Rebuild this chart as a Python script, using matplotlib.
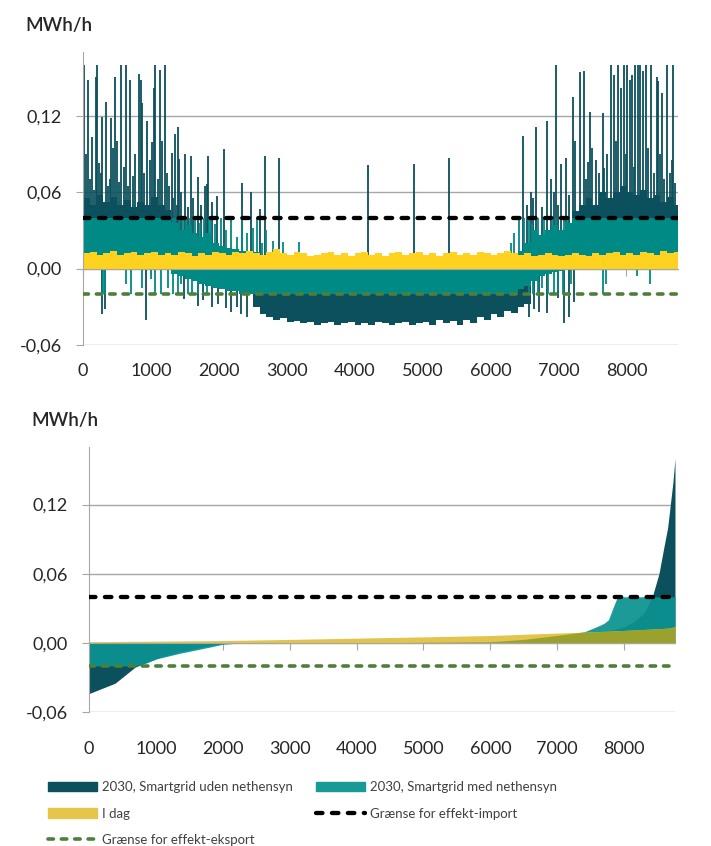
import numpy as np
import matplotlib
matplotlib.use("Agg")
import matplotlib.pyplot as plt
from matplotlib.patches import Patch
from matplotlib.lines import Line2D

plt.rcParams['font.family'] = ['Lato', 'DejaVu Sans']

# ---------------- data ----------------
HOURS = 8760
BIN = 100  # envelope bins of 100 hours

# top panel: dense band envelopes per 100 h bin
yellow_top = [
    0.012, 0.013, 0.011, 0.012, 0.014, 0.011, 0.012, 0.013, 0.011, 0.012,
    0.013, 0.011, 0.012, 0.011, 0.013, 0.012, 0.010, 0.012, 0.011, 0.013,
    0.012, 0.011, 0.013, 0.012, 0.014, 0.012, 0.011, 0.013, 0.015, 0.012,
    0.011, 0.013, 0.012, 0.010, 0.011, 0.012, 0.013, 0.011, 0.012, 0.010,
    0.012, 0.013, 0.011, 0.012, 0.010, 0.012, 0.013, 0.011, 0.012, 0.013,
    0.011, 0.012, 0.010, 0.012, 0.013, 0.011, 0.012, 0.011, 0.013, 0.012,
    0.011, 0.012, 0.014, 0.012, 0.011, 0.012, 0.010, 0.011, 0.012, 0.011,
    0.010, 0.011, 0.012, 0.011, 0.010, 0.012, 0.011, 0.012, 0.013, 0.011,
    0.012, 0.011, 0.013, 0.012, 0.011, 0.014, 0.012, 0.013]

teal_top = ([0.04] * 13
            + [0.036, 0.03, 0.034, 0.028, 0.025, 0.028, 0.02]
            + [0.018, 0.016, 0.015, 0.014, 0.012, 0.013]
            + [0.0] * 38
            + [0.014, 0.02, 0.03, 0.026, 0.03, 0.034, 0.03, 0.036, 0.04]
            + [0.04] * 15)

teal_bot = ([0.0] * 13
            + [-0.004, -0.006, -0.008, -0.01, -0.012, -0.014, -0.015]
            + [-0.016, -0.018, -0.018, -0.02, -0.02]
            + [-0.02] * 39
            + [-0.016, -0.014, -0.01]
            + [-0.006, -0.004, -0.003, -0.002, -0.001]
            + [0.0] * 16)

dark_top = ([0.055, 0.05, 0.058, 0.052, 0.056, 0.05, 0.054, 0.048, 0.052, 0.05, 0.056, 0.05, 0.046]
            + [0.0] * 59
            + [0.045, 0.05, 0.055, 0.05, 0.06, 0.055, 0.06, 0.065, 0.06, 0.058, 0.062, 0.055, 0.058,
               0.052, 0.056, 0.05])

dark_bot = ([0.0] * 25
            + [-0.03, -0.036, -0.038, -0.04, -0.039, -0.042, -0.041, -0.043, -0.042, -0.044,
               -0.043, -0.042, -0.044, -0.043, -0.042, -0.044, -0.043, -0.044, -0.042, -0.043,
               -0.044, -0.043, -0.042, -0.044, -0.043, -0.042, -0.044, -0.04, -0.043, -0.041,
               -0.044, -0.04, -0.043, -0.038, -0.04, -0.036, -0.038, -0.033, -0.035, -0.03, -0.028]
            + [0.0] * 22)

# top panel: individual spikes (hour, MWh/h)
dark_spike_h = [15, 74, 127, 186, 201, 236, 286, 336, 363, 412, 470, 530, 554, 627, 698, 740, 821, 848,
                863, 936, 1010, 1039, 1064, 1132, 1206, 1270, 1309, 1348, 1397, 1417, 1500, 1583, 1693,
                1799, 1819, 1843, 1975, 2076, 2348, 2480, 2603, 2686, 2882, 4196, 4868, 5392, 6475,
                6598, 6672, 6835, 6887, 6961, 7044, 7113, 7208, 7321, 7375, 7441, 7466, 7554, 7662,
                7676, 7777, 7821, 7880, 7926, 7961, 8012, 8050, 8084, 8127, 8170, 8205, 8245, 8290,
                8362, 8446, 8470, 8525, 8598, 8666, 8688, 8721,
                50, 100, 160, 260, 400, 440, 500, 600, 660, 760, 900, 980, 1100, 1160, 1240,
                7250, 7400, 7500, 7600, 7720, 7850, 7990, 8110, 8320, 8400, 8500, 8560, 8640,
                1330, 1380, 1450, 1540, 1620, 1740, 1900, 6540, 6620, 6760, 6930, 7000, 7150]
dark_spike_v = [0.16, 0.148, 0.103, 0.15, 0.16, 0.083, 0.119, 0.131, 0.065, 0.118, 0.15, 0.068, 0.16,
                0.16, 0.148, 0.073, 0.153, 0.148, 0.13, 0.116, 0.099, 0.142, 0.16, 0.156, 0.16, 0.065,
                0.091, 0.106, 0.111, 0.086, 0.09, 0.088, 0.072, 0.065, 0.066, 0.088, 0.057, 0.094,
                0.067, 0.06, 0.047, 0.088, 0.087, 0.081, 0.082, 0.087, 0.104, 0.06, 0.111, 0.116,
                0.07, 0.16, 0.082, 0.087, 0.135, 0.154, 0.155, 0.084, 0.123, 0.085, 0.122, 0.079,
                0.16, 0.152, 0.16, 0.142, 0.16, 0.16, 0.148, 0.152, 0.16, 0.16, 0.16, 0.155, 0.16,
                0.16, 0.15, 0.147, 0.138, 0.16, 0.085, 0.16, 0.067,
                0.09, 0.07, 0.062, 0.075, 0.07, 0.095, 0.1, 0.08, 0.065, 0.09, 0.075, 0.085, 0.07, 0.1, 0.075,
                0.1, 0.07, 0.095, 0.075, 0.09, 0.1, 0.09, 0.08, 0.095, 0.075, 0.09, 0.07, 0.075,
                0.055, 0.05, 0.06, 0.048, 0.055, 0.05, 0.052, 0.05, 0.055, 0.048, 0.06, 0.05, 0.058]

dark_neg_h = [275, 330, 921, 1480, 1686, 1760, 1900, 1990, 2100, 2180, 2260, 2330, 2420,
              6560, 6640, 6720, 6830, 6990, 7088, 7150, 7230]
dark_neg_v = [-0.036, -0.032, -0.04, -0.024, -0.029, -0.025, -0.03, -0.028, -0.031, -0.034, -0.03,
              -0.036, -0.038, -0.038, -0.032, -0.034, -0.035, -0.023, -0.043, -0.038, -0.026]

teal_pos_h = [1320, 1360, 1410, 1470, 1520, 1570, 1650, 1720, 1780, 1850,
              1880, 1950, 2030, 2110, 2180, 2260, 2340, 2420, 2500, 2560, 2640, 2700, 2790, 2950,
              3176, 6300, 6350, 6420, 6500, 6560, 6610, 6700, 6780, 6900, 6960, 7080, 7120]
teal_pos_v = [0.04, 0.04, 0.04, 0.038, 0.04, 0.04, 0.04, 0.036, 0.04, 0.04,
              0.04, 0.035, 0.04, 0.03, 0.038, 0.025, 0.04, 0.028, 0.032, 0.04, 0.02, 0.03, 0.022,
              0.021, 0.021, 0.02, 0.028, 0.04, 0.04, 0.04, 0.035, 0.04, 0.04, 0.038, 0.04, 0.04, 0.04]

teal_neg_h = [300, 320, 640, 700, 870, 1000, 1060, 1150, 1250, 1330, 1400, 1450, 1540, 1600, 1700,
              1820, 6560, 6620, 6700, 6760, 6850, 6930, 7000, 7060, 7180, 7650, 7700, 8150, 8350]
teal_neg_v = [-0.02, -0.02, -0.012, -0.02, -0.015, -0.008, -0.02, -0.02, -0.015, -0.02, -0.02, -0.012,
              -0.02, -0.02, -0.02, -0.02, -0.02, -0.02, -0.02, -0.015, -0.02, -0.02, -0.018, -0.02,
              -0.012, -0.02, -0.012, -0.006, -0.012]

# bottom panel: duration curves
dark_dur_h = [0, 390, 690, 1060, 1360, 1760, 2000, 2200, 4000, 6000, 6500, 7000, 7500, 7840, 8000,
              8140, 8300, 8420, 8520, 8600, 8650, 8690, 8730, 8760]
dark_dur_v = [-0.044, -0.035, -0.021, -0.0125, -0.0076, -0.003, -0.0005, 0.0, 0.0, 0.0005, 0.002,
              0.005, 0.0085, 0.0113, 0.014, 0.018, 0.026, 0.04, 0.06, 0.085, 0.1, 0.12, 0.14, 0.16]

teal_dur_h = [0, 700, 850, 1000, 1360, 1760, 2000, 2300, 4000, 6000, 6500, 7000, 7400, 7600, 7700,
              7766, 7830, 7900, 8760]
teal_dur_v = [-0.02, -0.02, -0.0175, -0.014, -0.009, -0.0042, -0.0012, 0.0, 0.0, 0.001, 0.003,
              0.0065, 0.0095, 0.0143, 0.017, 0.02, 0.03, 0.04, 0.04]

yel_dur_h = [0, 1000, 2000, 3000, 4000, 5000, 6000, 7000, 7500, 8000, 8500, 8700, 8760]
yel_dur_v = [0.001, 0.0015, 0.002, 0.003, 0.0041, 0.0052, 0.0064, 0.0085, 0.0095, 0.0108, 0.0122,
             0.013, 0.0145]

IMPORT_LIMIT = 0.04
EXPORT_LIMIT = -0.02

x_ticks = [0, 1000, 2000, 3000, 4000, 5000, 6000, 7000, 8000]
y_ticks = [-0.06, 0.0, 0.06, 0.12]
y_labels = ['-0,06', '0,00', '0,06', '0,12']

labels = ['2030, Smartgrid uden nethensyn', 'I dag', 'Grænse for effekt-eksport',
          '2030, Smartgrid med nethensyn', 'Grænse for effekt-import']

# ---------------- colours ----------------
DARK = '#0B505C'
TEAL = '#008A86'
YELLOW = '#FFD21F'
GRID = '#A6A6A6'
GREEN = '#4E7F3A'
TXT = '#262626'

W, H = 711, 846
fig = plt.figure(figsize=(W / 100, H / 100), dpi=100)
ax1 = fig.add_axes([83 / W, 1 - 345 / H, (678 - 83) / W, (345 - 52) / H])
ax2 = fig.add_axes([89 / W, 1 - 712 / H, (675 - 89) / W, (712 - 447) / H])


def style(ax, xpad):
    ax.set_xlim(0, HOURS)
    ax.set_ylim(-0.06, 0.17)
    ax.set_yticks(y_ticks)
    ax.set_yticklabels(y_labels)
    for s in ['top', 'right']:
        ax.spines[s].set_visible(False)
    ax.spines['left'].set_color(GRID)
    ax.spines['bottom'].set_position(('data', 0))
    ax.spines['bottom'].set_color(GRID)
    ax.spines['bottom'].set_zorder(2.6)
    ax.grid(axis='y', color=GRID, lw=1.0)
    ax.set_axisbelow(True)
    ax.tick_params(axis='y', length=5, color=GRID, labelsize=13, pad=10, labelcolor=TXT)
    ax.set_xticks(x_ticks)
    ax.tick_params(axis='x', length=5, color=GRID, labelbottom=False)
    sec = ax.secondary_xaxis(0)
    sec.set_xticks(x_ticks)
    sec.set_xticklabels([str(t) for t in x_ticks])
    sec.tick_params(length=0, pad=xpad, labelsize=13, labelcolor=TXT)
    sec.spines['bottom'].set_visible(False)


# ---------------- top: hourly profile ----------------
bin_start = np.arange(0, HOURS, BIN)
x_step = np.append(bin_start, HOURS)


def step_fill(ax, vals, color, z):
    y = np.append(vals, vals[-1])
    ax.fill_between(x_step, 0, y, step='post', color=color, lw=0, zorder=z)


step_fill(ax1, dark_top, DARK, 1.0)
step_fill(ax1, dark_bot, DARK, 1.0)
ax1.vlines(dark_spike_h, 0, dark_spike_v, color=DARK, lw=1.3, zorder=1.1)
ax1.vlines(dark_neg_h, 0, dark_neg_v, color=DARK, lw=1.3, zorder=1.1)
step_fill(ax1, teal_top, TEAL, 1.2)
step_fill(ax1, teal_bot, TEAL, 1.2)
ax1.vlines(teal_pos_h, 0, teal_pos_v, color=TEAL, lw=1.3, zorder=1.3)
ax1.vlines(teal_neg_h, 0, teal_neg_v, color=TEAL, lw=1.3, zorder=1.3)
step_fill(ax1, yellow_top, YELLOW, 1.4)

DASH = (0, (1.5, 2.2))
for ax in (ax1, ax2):
    ax.axhline(IMPORT_LIMIT, color='black', lw=3.1, ls=DASH, dash_capstyle='round', zorder=3)
    ax.axhline(EXPORT_LIMIT, color=GREEN, lw=2.6, ls=DASH, dash_capstyle='round', zorder=3)

style(ax1, 13)

# ---------------- bottom: duration curves ----------------
xx = np.arange(0, HOURS + 1, 10)
dark_c = np.interp(xx, dark_dur_h, dark_dur_v)
teal_c = np.interp(xx, teal_dur_h, teal_dur_v)
yel_c = np.interp(xx, yel_dur_h, yel_dur_v)

ax2.fill_between(xx, 0, dark_c, color=DARK, lw=0, zorder=1.0)
ax2.fill_between(xx, 0, teal_c, color='#0A9290', alpha=0.93, lw=0, zorder=1.1)
ax2.fill_between(xx, 0, yel_c, color='#E3C44C', lw=0, zorder=1.2)
under = np.clip(np.minimum(yel_c, np.maximum(dark_c, teal_c)), 0, None)
ax2.fill_between(xx, 0, under, color='#9AA22D', lw=0, zorder=1.3)

style(ax2, 21)

# ---------------- texts & legend ----------------
fig.text(25 / W, 1 - 25 / H, 'MWh/h', fontsize=13.5, fontweight='semibold', color=TXT,
         va='center', ha='left')
fig.text(31 / W, 1 - 420 / H, 'MWh/h', fontsize=13.5, fontweight='semibold', color=TXT,
         va='center', ha='left')

handles = [Patch(color=DARK), Patch(color='#E5C54A'),
           Line2D([], [], color=GREEN, lw=2.6, ls=DASH, dash_capstyle='round'),
           Patch(color='#1A9A97'),
           Line2D([], [], color='black', lw=3.1, ls=DASH, dash_capstyle='round')]
fig.legend(handles, labels, ncol=2, loc='upper left', bbox_to_anchor=(48 / W, 1 - 781 / H),
           frameon=False, handlelength=3.7, handleheight=0.7, handletextpad=0.4,
           columnspacing=1.75, labelspacing=1.1, borderpad=0, borderaxespad=0,
           labelcolor='#404040',
           prop={'family': ['Liberation Sans Narrow', 'Lato'], 'size': 9.5})

fig.savefig('out.png', dpi=100)
